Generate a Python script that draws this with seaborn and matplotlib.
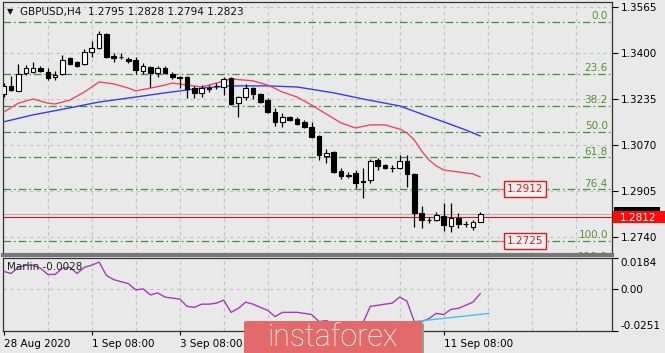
import matplotlib
matplotlib.use("Agg")
import matplotlib.pyplot as plt
import seaborn as sns
import numpy as np
from matplotlib.patches import Rectangle, FancyBboxPatch

# GBPUSD H4 candles
opens = [1.3253, 1.3282, 1.3264, 1.3328, 1.3332, 1.3346, 1.3332, 1.3314, 1.3325, 1.3382,
         1.3368, 1.3361, 1.3404, 1.3418, 1.3468, 1.3389, 1.3386, 1.3379, 1.3375, 1.3335,
         1.3350, 1.3328, 1.3346, 1.3325, 1.3314, 1.3314, 1.3274, 1.3257, 1.3274, 1.3282,
         1.3278, 1.3310, 1.3220, 1.3242, 1.3274, 1.3253, 1.3231, 1.3188, 1.3153, 1.3170,
         1.3163, 1.3153, 1.3135, 1.3102, 1.3031, 1.3045, 1.2977, 1.2962, 1.2970, 1.2941,
         1.2945, 1.3016, 1.2998, 1.2988, 1.2988, 1.3013, 1.2966, 1.2826, 1.2801, 1.2801,
         1.2815, 1.2779, 1.2808, 1.2787, 1.2776, 1.2795]
highs = [1.3292, 1.3318, 1.3361, 1.3357, 1.3368, 1.3353, 1.3346, 1.3335, 1.3393, 1.3386,
         1.3371, 1.3414, 1.3443, 1.3479, 1.3472, 1.3400, 1.3400, 1.3386, 1.3386, 1.3364,
         1.3353, 1.3353, 1.3353, 1.3332, 1.3318, 1.3318, 1.3282, 1.3285, 1.3285, 1.3292,
         1.3314, 1.3314, 1.3246, 1.3289, 1.3278, 1.3257, 1.3239, 1.3203, 1.3185, 1.3174,
         1.3170, 1.3160, 1.3153, 1.3106, 1.3056, 1.3048, 1.2988, 1.2973, 1.2980, 1.2988,
         1.3020, 1.3023, 1.3002, 1.2998, 1.3034, 1.3034, 1.2970, 1.2851, 1.2812, 1.2830,
         1.2862, 1.2862, 1.2826, 1.2797, 1.2801, 1.2828]
lows = [1.3242, 1.3264, 1.3262, 1.3321, 1.3328, 1.3332, 1.3303, 1.3303, 1.3321, 1.3357,
        1.3350, 1.3357, 1.3386, 1.3414, 1.3382, 1.3368, 1.3379, 1.3364, 1.3325, 1.3325,
        1.3278, 1.3314, 1.3325, 1.3307, 1.3274, 1.3239, 1.3239, 1.3242, 1.3260, 1.3271,
        1.3249, 1.3213, 1.3170, 1.3231, 1.3235, 1.3220, 1.3185, 1.3138, 1.3135, 1.3156,
        1.3142, 1.3131, 1.3095, 1.3016, 1.3005, 1.2970, 1.2948, 1.2952, 1.2916, 1.2880,
        1.2934, 1.2980, 1.2984, 1.2973, 1.2984, 1.2919, 1.2776, 1.2772, 1.2790, 1.2797,
        1.2761, 1.2758, 1.2772, 1.2776, 1.2765, 1.2794]
closes = [1.3282, 1.3267, 1.3325, 1.3346, 1.3346, 1.3335, 1.3310, 1.3321, 1.3375, 1.3361,
          1.3353, 1.3404, 1.3418, 1.3468, 1.3386, 1.3382, 1.3384, 1.3371, 1.3339, 1.3353,
          1.3328, 1.3346, 1.3328, 1.3314, 1.3312, 1.3271, 1.3257, 1.3274, 1.3272, 1.3280,
          1.3307, 1.3217, 1.3242, 1.3274, 1.3253, 1.3224, 1.3188, 1.3153, 1.3170, 1.3160,
          1.3146, 1.3135, 1.3099, 1.3034, 1.3041, 1.2973, 1.2959, 1.2960, 1.2934, 1.2937,
          1.3013, 1.2995, 1.2988, 1.2986, 1.3013, 1.2966, 1.2826, 1.2801, 1.2799, 1.2819,
          1.2783, 1.2808, 1.2787, 1.2785, 1.2794, 1.2823]

# moving averages (bar index, price)
ma_red_idx = [0, 2, 4, 6, 7, 9, 11, 13, 15, 17, 18, 20, 22, 23, 25, 27, 29, 31, 34, 36,
              38, 40, 42, 44, 46, 48, 50, 52, 54, 55, 56, 57, 58, 59, 60, 62, 64, 65]
ma_red = [1.3188, 1.3220, 1.3235, 1.3220, 1.3217, 1.3231, 1.3260, 1.3296, 1.3289, 1.3274,
          1.3264, 1.3274, 1.3285, 1.3292, 1.3285, 1.3278, 1.3292, 1.3307, 1.3300, 1.3285,
          1.3260, 1.3242, 1.3213, 1.3181, 1.3149, 1.3131, 1.3142, 1.3142, 1.3127, 1.3113,
          1.3088, 1.3048, 1.3016, 1.2995, 1.2980, 1.2973, 1.2966, 1.2955]
ma_blue_idx = [0, 4, 9, 13, 18, 22, 27, 31, 36, 40, 45, 49, 54, 57, 60, 63, 65]
ma_blue = [1.3153, 1.3178, 1.3203, 1.3224, 1.3242, 1.3257, 1.3274, 1.3282, 1.3282, 1.3278,
           1.3257, 1.3235, 1.3210, 1.3181, 1.3153, 1.3124, 1.3102]

# Marlin oscillator
marlin = [0.0104, 0.0092, 0.0129, 0.0141, 0.0141, 0.0123, 0.0086, 0.0086, 0.0123, 0.0129,
          0.0092, 0.0129, 0.0141, 0.0160, 0.0080, 0.0055, 0.0043, 0.0031, -0.0006, 0.0000,
          -0.0036, -0.0024, -0.0049, -0.0055, -0.0061, -0.0104, -0.0110, -0.0091, -0.0091, -0.0085,
          -0.0067, -0.0140, -0.0116, -0.0079, -0.0091, -0.0110, -0.0128, -0.0165, -0.0140, -0.0140,
          -0.0140, -0.0146, -0.0153, -0.0195, -0.0189, -0.0210, -0.0240, -0.0251, -0.0235, -0.0202,
          -0.0104, -0.0098, -0.0091, -0.0085, -0.0049, -0.0073, -0.0195, -0.0195, -0.0177, -0.0146,
          -0.0153, -0.0122, -0.0116, -0.0098, -0.0079, -0.0028]
trend_idx = [56, 66.2]
trend_val = [-0.0195, -0.0146]

fib_high = 1.3511
fib_low = 1.2725
fib_levels = [0.0, 23.6, 38.2, 50.0, 61.8, 76.4, 100.0, 110.0]
level_labels = ["1.2912", "1.2725"]
level_prices = [1.2912, 1.2725]
line_price = 1.2812
bid_price = 1.2823

price_ticks = [1.3565, 1.3400, 1.3235, 1.3070, 1.2905, 1.2740]
marlin_ticks = [0.0184, 0.0, -0.0251]
marlin_labels = ["0.0184", "0.00", "-0.0251"]
# 7 Sep / 9 Sep labels sit under the watermark and are not visible
time_idx = [0, 12, 24, 60]
time_labels = ["28 Aug 2020", "1 Sep 08:00", "3 Sep 08:00", "11 Sep 08:00"]

sns.set_theme(style="white")
plt.rcParams["font.family"] = ["DejaVu Sans"]
bg = "#e9e9e9"
fs = 7.5

W, H = 665, 353
fig = plt.figure(figsize=(W / 100, H / 100), dpi=100, facecolor=bg)
ax = fig.add_axes([3 / W, 1 - 255 / H, 609 / W, 253 / H], facecolor=bg)
ax2 = fig.add_axes([3 / W, 1 - 331 / H, 609 / W, 73 / H], facecolor=bg)

xlim = (-0.11, 82.97)
n = len(opens)
idx = np.arange(n)

# grid
for a in (ax, ax2):
    for g in range(6, 84, 6):
        a.axvline(g, color="#c4c4c4", lw=0.8, ls=(0, (3, 3)), zorder=0)
for p in price_ticks:
    ax.axhline(p, color="#c4c4c4", lw=0.8, ls=(0, (3, 3)), zorder=0)
ax2.axhline(0.0, color="#c4c4c4", lw=0.8, ls=(0, (3, 3)), zorder=0)

# fibonacci levels
rng = fib_high - fib_low
for lv in fib_levels:
    p = fib_high - lv / 100 * rng
    ax.axhline(p, color="#3f8f3f", lw=0.9, ls=(0, (6, 2.5, 1.2, 2.5)), zorder=1)
    ax.text(82.4, p + 0.0003, f"{lv:.1f}", color="#5c8f2e", fontsize=fs,
            ha="right", va="bottom", clip_on=True, zorder=2)

# bid / horizontal line
ax.axhline(bid_price, color="#b4b4b4", lw=0.8, zorder=1)
ax.axhline(line_price, color="#e01010", lw=0.8, zorder=1)

# moving averages
sns.lineplot(x=ma_blue_idx, y=ma_blue, ax=ax, color="#3a3af0", lw=1.0, zorder=3)
sns.lineplot(x=ma_red_idx, y=ma_red, ax=ax, color="#e84a64", lw=1.0, zorder=3)

# candles
up = np.array(closes) >= np.array(opens)
ax.vlines(idx, lows, highs, color="black", lw=0.9, zorder=4)
bottoms = np.minimum(opens, closes)
heights = np.maximum(np.abs(np.array(closes) - np.array(opens)), 0.00012)
ax.bar(idx, heights, bottom=bottoms, width=0.62,
       color=["white" if u else "black" for u in up], edgecolor="black", lw=0.8, zorder=5)

# level boxes
for lab, p in zip(level_labels, level_prices):
    ax.plot([67.3, 68.5], [p, p], color="#f07070", lw=0.9, zorder=3)
    ax.text(68.6, p, lab, color="#e01818", fontsize=fs, ha="left", va="center", zorder=6,
            bbox=dict(boxstyle="square,pad=0.25", fc="#f2f2f2", ec="#e01818", lw=1))

ax.set_xlim(*xlim)
ax.set_ylim(1.2675, 1.3583)
ax.set_xticks([])
ax.yaxis.tick_right()
ax.set_yticks(price_ticks)
ax.set_yticklabels([f"{p:.4f}" for p in price_ticks])
ax.tick_params(axis="y", right=True, length=4, width=0.8, pad=2, labelsize=fs, colors="black")
for s in ax.spines.values():
    s.set_color("#333333")
    s.set_linewidth(0.9)
ax.spines["bottom"].set_color("#777777")
ax.spines["bottom"].set_linewidth(3)

# Marlin panel
sns.lineplot(x=idx, y=marlin, ax=ax2, color="#a43cb4", lw=1.0, zorder=3)
sns.lineplot(x=trend_idx, y=trend_val, ax=ax2, color="#40c4f4", lw=1.0, zorder=3)
ax2.set_xlim(*xlim)
ax2.set_ylim(-0.0251, 0.0184)
ax2.yaxis.tick_right()
ax2.set_yticks(marlin_ticks)
ax2.set_yticklabels(marlin_labels)
ax2.tick_params(axis="y", right=True, length=4, width=0.8, pad=2, labelsize=fs, colors="black")
ylabs = ax2.get_yticklabels()
ylabs[0].set_va("top")
ylabs[2].set_va("bottom")
ax2.set_xticks(time_idx)
ax2.set_xticklabels(time_labels)
ax2.tick_params(axis="x", bottom=True, length=3, width=0.8, pad=3, labelsize=fs, colors="black")
for lbl in ax2.get_xticklabels():
    lbl.set_ha("left")
for s in ax2.spines.values():
    s.set_color("#333333")
    s.set_linewidth(0.9)
ax2.set_xlabel("")
ax2.set_ylabel("")
ax.set_xlabel("")
ax.set_ylabel("")

# header texts
fig.text(7 / W, 1 - 12 / H, "\u25bc", fontsize=6, va="center", ha="left", color="#111111")
fig.text(20 / W, 1 - 12 / H, "GBPUSD,H4  1.2795 1.2828 1.2794 1.2823", fontsize=fs,
         va="center", ha="left", color="#111111")
fig.text(7 / W, 1 - 267 / H, "Marlin -0.0028", fontsize=fs, va="center", ha="left", color="#222222")

# price labels on right
fig.patches.append(Rectangle((614 / W, 1 - 211 / H), 46 / W, 4 / H, transform=fig.transFigure,
                             fc="black", ec="none", zorder=5))
fig.patches.append(Rectangle((613 / W, 1 - 223 / H), 52 / W, 12 / H, transform=fig.transFigure,
                             fc="#ff0a0a", ec="none", zorder=6))
fig.text(620 / W, 1 - 217.5 / H, "1.2812", fontsize=fs, color="white", va="center", ha="left", zorder=7)

# watermark
fig.patches.append(FancyBboxPatch((246 / W, -5 / H), 178 / W, 30 / H + 5 / H,
                                  boxstyle="round,pad=0,rounding_size=0.004",
                                  transform=fig.transFigure, fc="#9a9a9a", ec="none", zorder=8))
fig.patches.append(FancyBboxPatch((244 / W, -5 / H), 178 / W, 32 / H + 5 / H,
                                  boxstyle="round,pad=0,rounding_size=0.004",
                                  transform=fig.transFigure, fc="#e26a6a", ec="none", zorder=9))
fig.text(333 / W, 1 - 337 / H, "instaforex", fontsize=22, color="white", family="Roboto",
         weight="light", va="center", ha="center", zorder=10)

fig.savefig("out.png", dpi=100, facecolor=bg)
